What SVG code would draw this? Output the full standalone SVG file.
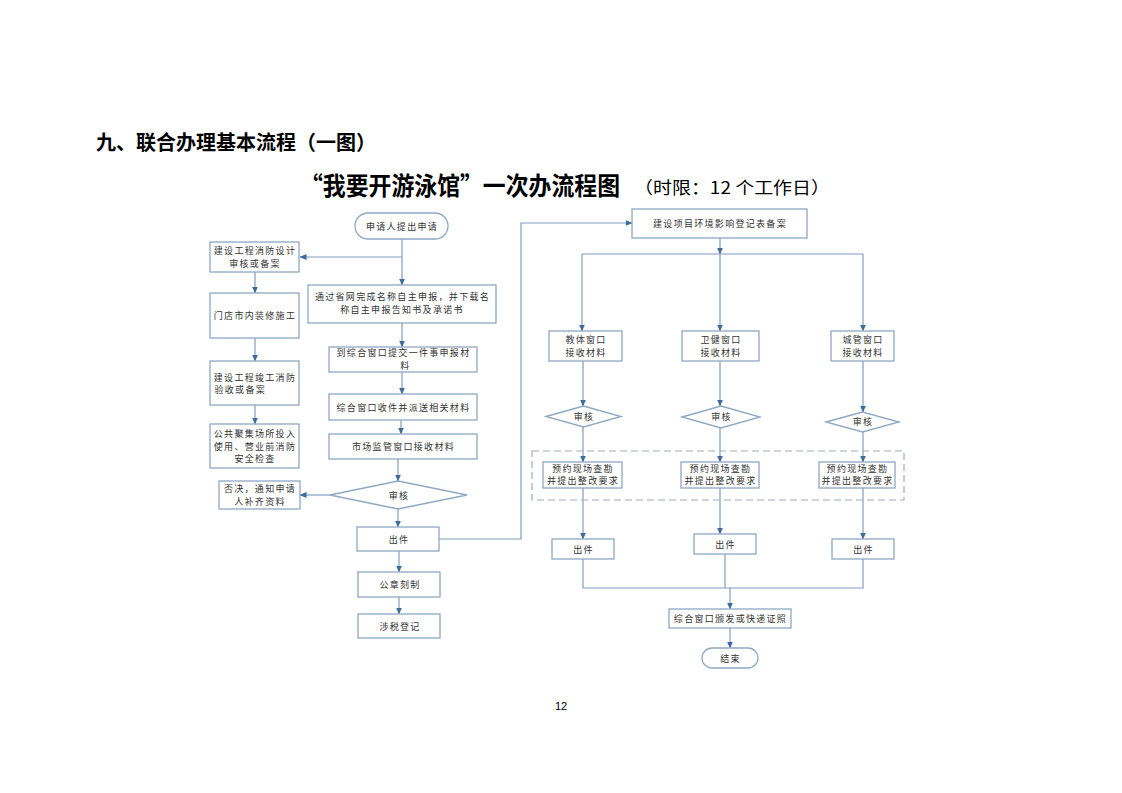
<svg xmlns="http://www.w3.org/2000/svg" width="1122" height="793" viewBox="0 0 1122 793">
<defs>
<marker id="arr" markerUnits="userSpaceOnUse" markerWidth="7" markerHeight="7" viewBox="0 0 7 7" refX="6.5" refY="3.5" orient="auto">
<path d="M0,0.5 L7,3.5 L0,6.5 Z" fill="#3d6c9c"/>
</marker>
</defs>
<style>
.bx{fill:#fff;stroke:#8fa8c4;stroke-width:1.3}
.ln{fill:none;stroke:#7f9dbd;stroke-width:1.2}
.ar{marker-end:url(#arr)}
.t{font-family:"Noto Sans CJK SC","Noto Sans",sans-serif;font-size:9px;fill:#333;letter-spacing:1.3px;text-anchor:middle}
.tl{text-anchor:start}
.h1{font-family:"Noto Sans CJK SC","Noto Sans",sans-serif;font-size:20px;font-weight:bold;fill:#000}
.h2{font-family:"Noto Sans CJK SC","Noto Sans",sans-serif;font-size:25px;font-weight:bold;fill:#000}
.h3{font-family:"Noto Sans CJK SC","Noto Sans",sans-serif;font-size:17px;fill:#000}
</style>
<rect width="1122" height="793" fill="#fff"/>
<text class="h1" x="96" y="150">九、联合办理基本流程（一图）</text>
<text class="h2" x="300" y="195" textLength="320" lengthAdjust="spacingAndGlyphs">“我要开游泳馆”一次办流程图</text>
<text class="h3" x="634" y="194" textLength="196" lengthAdjust="spacingAndGlyphs">（时限：12 个工作日）</text>
<text x="561" y="710" font-family="Liberation Sans, sans-serif" font-size="11" text-anchor="middle" fill="#000">12</text>

<g id="connectors">
<path class="ln ar" d="M402,239 V285"/>
<path class="ln ar" d="M402,257 H300"/>
<path class="ln ar" d="M255,272 V293"/>
<path class="ln ar" d="M255,338 V361"/>
<path class="ln ar" d="M255,405 V424"/>
<path class="ln ar" d="M402,323 V347"/>
<path class="ln ar" d="M402,372 V394"/>
<path class="ln ar" d="M401,420 V434"/>
<path class="ln ar" d="M398,459 V481"/>
<path class="ln ar" d="M398,509 V527"/>
<path class="ln ar" d="M330,495 H300"/>
<path class="ln ar" d="M399,551 V572"/>
<path class="ln ar" d="M399,597 V614"/>
<path class="ln ar" d="M439,539 H521 V223 H632"/>
<path class="ln ar" d="M720,238 V254"/>
<path class="ln" d="M582,254 H863"/>
<path class="ln ar" d="M582,254 V331"/>
<path class="ln ar" d="M720,254 V331"/>
<path class="ln ar" d="M863,254 V331"/>
<path class="ln ar" d="M583,361 V406"/>
<path class="ln ar" d="M720,361 V406"/>
<path class="ln ar" d="M863,361 V412"/>
<path class="ln ar" d="M583,427 V462"/>
<path class="ln ar" d="M720,428 V462"/>
<path class="ln ar" d="M863,432 V462"/>
<path class="ln ar" d="M583,488 V539"/>
<path class="ln ar" d="M720,488 V534"/>
<path class="ln ar" d="M863,488 V539"/>
<path class="ln" d="M583,559 V588 H863 V559"/>
<path class="ln" d="M725,554 V588"/>
<path class="ln ar" d="M730,588 V609"/>
<path class="ln ar" d="M730,628 V648"/>
</g>

<g id="n-start"><rect class="bx" x="355" y="213" width="93" height="26" rx="13"/><text class="t" x="402" y="229.5">申请人提出申请</text></g>
<g id="n-l1"><rect class="bx" x="210" y="242" width="89" height="30"/><text class="t" x="255" y="254">建设工程消防设计</text><text class="t" x="255" y="267">审核或备案</text></g>
<g id="n-l2"><rect class="bx" x="210" y="293" width="89" height="45"/><text class="t" x="255" y="318.5">门店市内装修施工</text></g>
<g id="n-l3"><rect class="bx" x="210" y="361" width="89" height="44"/><text class="t" x="255" y="380.5">建设工程竣工消防</text><text class="t tl" x="214.5" y="393">验收或备案</text></g>
<g id="n-l4"><rect class="bx" x="210" y="424" width="89" height="44"/><text class="t" x="255" y="436.5">公共聚集场所投入</text><text class="t" x="255" y="449.5">使用、营业前消防</text><text class="t" x="255" y="462">安全检查</text></g>
<g id="n-m2"><rect class="bx" x="308" y="285" width="188" height="38"/><text class="t" x="402.5" y="299.5">通过省网完成名称自主申报，并下载名</text><text class="t" x="402" y="312.5">称自主申报告知书及承诺书</text></g>
<g id="n-m3"><rect class="bx" x="329" y="347" width="148" height="25"/><text class="t" x="403.5" y="356">到综合窗口提交一件事申报材</text><text class="t" x="405.5" y="368.5">料</text></g>
<g id="n-m4"><rect class="bx" x="329" y="394" width="148" height="26"/><text class="t" x="403.5" y="410.5">综合窗口收件并派送相关材料</text></g>
<g id="n-m5"><rect class="bx" x="329" y="434" width="148" height="25"/><text class="t" x="403.5" y="449.5">市场监管窗口接收材料</text></g>
<g id="n-d"><polygon class="bx" points="330,495 398,481 467,495 398,509"/><text class="t" x="399" y="498.5">审核</text></g>
<g id="n-rej"><rect class="bx" x="219" y="481" width="81" height="28"/><text class="t" x="260" y="491.5">否决，通知申请</text><text class="t" x="260" y="504.5">人补齐资料</text></g>
<g id="n-out"><rect class="bx" x="357" y="527" width="82" height="24"/><text class="t" x="399" y="542.5">出件</text></g>
<g id="n-seal"><rect class="bx" x="358" y="572" width="82" height="25"/><text class="t" x="400" y="588">公章刻制</text></g>
<g id="n-tax"><rect class="bx" x="358" y="614" width="82" height="24"/><text class="t" x="400" y="629.5">涉税登记</text></g>

<g id="n-env"><rect class="bx" x="632" y="209" width="175" height="29"/><text class="t" x="720" y="227">建设项目环境影响登记表备案</text></g>
<g id="n-w1"><rect class="bx" x="549" y="331" width="73" height="30"/><text class="t" x="586" y="342.5">教体窗口</text><text class="t" x="586" y="355.5">接收材料</text></g>
<g id="n-w2"><rect class="bx" x="682" y="331" width="77" height="30"/><text class="t" x="721" y="342.5">卫健窗口</text><text class="t" x="721" y="355.5">接收材料</text></g>
<g id="n-w3"><rect class="bx" x="831" y="331" width="63" height="30"/><text class="t" x="863" y="342.5">城管窗口</text><text class="t" x="863" y="355.5">接收材料</text></g>
<g id="n-d1"><polygon class="bx" points="546,416.5 583.5,406 621,416.5 583.5,427"/><text class="t" x="584" y="419.5">审核</text></g>
<g id="n-d2"><polygon class="bx" points="682,417 721,406 760,417 721,428"/><text class="t" x="721.5" y="420">审核</text></g>
<g id="n-d3"><polygon class="bx" points="826,422 862.5,412 899,422 862.5,432"/><text class="t" x="863" y="425">审核</text></g>
<g id="n-group"><rect x="532" y="451" width="372" height="49" fill="none" stroke="#a3acb5" stroke-width="1.2" stroke-dasharray="7,4"/></g>
<g id="n-s1"><rect class="bx" x="543" y="462" width="79" height="26"/><text class="t" x="583" y="471.5">预约现场查勘</text><text class="t" x="583" y="484">并提出整改要求</text></g>
<g id="n-s2"><rect class="bx" x="681" y="462" width="78" height="26"/><text class="t" x="720.5" y="471.5">预约现场查勘</text><text class="t" x="720.5" y="484">并提出整改要求</text></g>
<g id="n-s3"><rect class="bx" x="819" y="462" width="76" height="26"/><text class="t" x="857.5" y="471.5">预约现场查勘</text><text class="t" x="857.5" y="484">并提出整改要求</text></g>
<g id="n-o1"><rect class="bx" x="552" y="539" width="62" height="20"/><text class="t" x="583.5" y="552.5">出件</text></g>
<g id="n-o2"><rect class="bx" x="694" y="534" width="62" height="20"/><text class="t" x="725.5" y="547.5">出件</text></g>
<g id="n-o3"><rect class="bx" x="832" y="539" width="62" height="20"/><text class="t" x="863.5" y="552.5">出件</text></g>
<g id="n-issue"><rect class="bx" x="669" y="609" width="122" height="19"/><text class="t" x="730.5" y="621.5">综合窗口颁发或快递证照</text></g>
<g id="n-end"><rect class="bx" x="702" y="648" width="56" height="20" rx="10"/><text class="t" x="730.5" y="661.5">结束</text></g>
</svg>
